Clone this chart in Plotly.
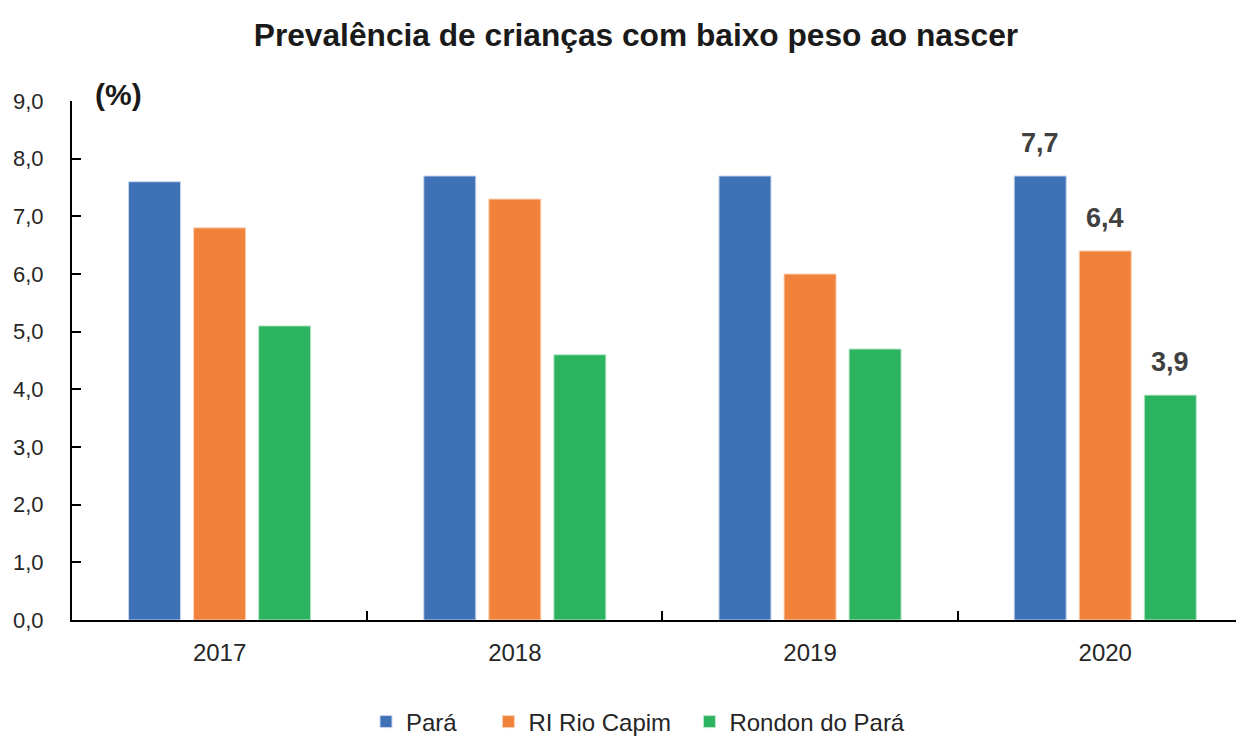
import plotly.graph_objects as go

years = ["2017", "2018", "2019", "2020"]
para = [7.6, 7.7, 7.7, 7.7]
ri_rio_capim = [6.8, 7.3, 6.0, 6.4]
rondon = [5.1, 4.6, 4.7, 3.9]
series_names = ["Pará", "RI Rio Capim", "Rondon do Pará"]
legend_pad = [4, 2, 0]  # trailing non-breaking spaces for legend spacing
colors = ["#3F71B7", "#F0823C", "#2BB35F"]
edge_colors = ["#C9D6EC", "#F9D3B8", "#BFE8CC"]
series_values = [para, ri_rio_capim, rondon]

# page body has an 8px margin; positions below are compensated for it
OFF = 8
W, H = 1244, 738

fig = go.Figure()
for name, pad, vals, c, ec in zip(series_names, legend_pad, series_values, colors, edge_colors):
    fig.add_trace(go.Bar(
        x=years, y=vals, name=name + "\u00a0" * pad,
        marker=dict(color=c, line=dict(color=ec, width=1)),
        hovertemplate=name + ": %{y:.1f}<extra></extra>",
    ))

# value labels on the last year
slot = 65  # px spacing between grouped bars
last = len(years) - 1
for i, vals in enumerate(series_values):
    v = vals[last]
    fig.add_annotation(
        x=last, y=v, xref="x", yref="y",
        text=f"<b>{v:.1f}</b>".replace(".", ","),
        xshift=(i - 1) * slot, yshift=33, yanchor="middle", xanchor="center",
        showarrow=False,
        font=dict(family="Liberation Sans", size=27, color="#404040"),
    )

fig.update_layout(
    width=W, height=H,
    margin=dict(l=72 - OFF, r=OFF, t=101 - OFF, b=H - 620 + OFF, autoexpand=False),
    paper_bgcolor="white", plot_bgcolor="white",
    separators=",.",
    barmode="group", bargap=0.339, bargroupgap=0.2,
    title=dict(text="<b>Prevalência de crianças com baixo peso ao nascer</b>",
               x=(636 - OFF) / W, xanchor="center", y=1 - (35 - OFF) / H, yanchor="middle",
               font=dict(family="Liberation Sans", size=31.7, color="#1a1a1a")),
    legend=dict(orientation="h", x=(638 - OFF) / W, xanchor="center", xref="container",
                y=1 - (722 - OFF) / H, yanchor="middle", yref="container",
                font=dict(family="Liberation Sans", size=24, color="#262626"),
                traceorder="normal", itemwidth=30),
    showlegend=True,
)
fig.update_xaxes(
    type="category", range=[-0.5, 3.47], automargin=False,
    showline=True, linecolor="black", linewidth=2,
    ticks="inside", ticklen=9, tickwidth=2, tickcolor="black", tickson="boundaries",
    showgrid=False, ticklabelstandoff=10,
    tickfont=dict(family="Liberation Sans", size=24, color="#262626"),
)
fig.update_yaxes(
    range=[0, 9], dtick=1, tickformat=".1f", automargin=False,
    showline=True, linecolor="black", linewidth=2,
    ticks="inside", ticklen=9, tickwidth=2, tickcolor="black",
    showgrid=False, zeroline=False, ticklabelstandoff=22,
    tickfont=dict(family="Liberation Sans", size=22, color="#262626"),
)
fig.add_annotation(text="<b>(%)</b>", xref="paper", yref="paper",
                   x=0.0401, y=1.0116, xanchor="center", yanchor="middle", showarrow=False,
                   font=dict(family="Liberation Sans", size=30, color="#1a1a1a"))

fig.write_html("out.html")
